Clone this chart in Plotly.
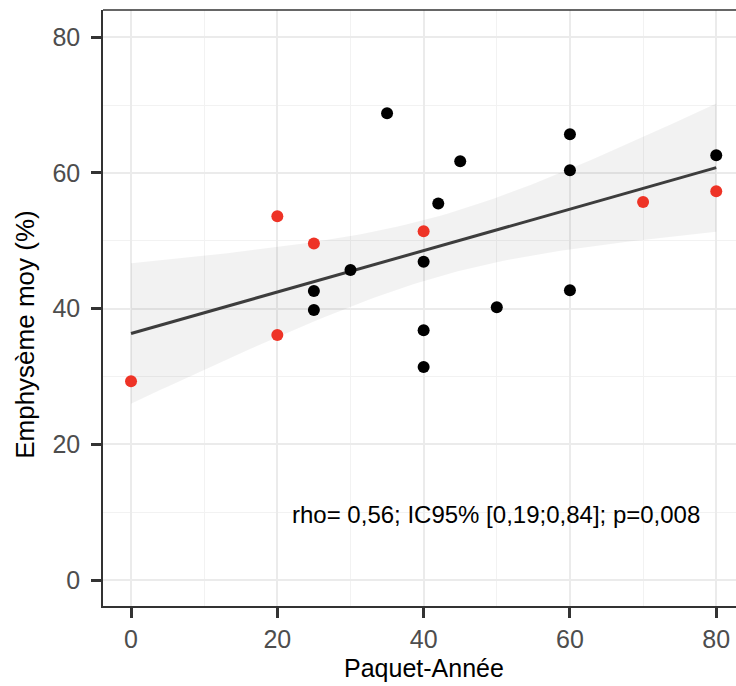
import numpy as np
import plotly.graph_objects as go

# Paquet-Année and mean emphysema (%) per patient, by group
red_x = [0, 20, 20, 25, 40, 70, 80]
red_y = [29.3, 53.6, 36.1, 49.6, 51.4, 55.7, 57.3]
black_x = [35, 25, 25, 30, 40, 40, 40, 42, 45, 50, 60, 60, 60, 80]
black_y = [68.8, 42.6, 39.8, 45.7, 46.9, 36.8, 31.4, 55.5, 61.7, 40.2, 65.7, 60.4, 42.7, 62.6]
x_ticks = [0, 20, 40, 60, 80]
y_ticks = [0, 20, 40, 60, 80]
x_title = "Paquet-Année"
y_title = "Emphysème moy (%)"
stat_label = "rho= 0,56; IC95% [0,19;0,84]; p=0,008"

FONT = "Liberation Sans, Arial"

# Linear fit with 95% confidence band over all patients
x_all = np.array(red_x + black_x, dtype=float)
y_all = np.array(red_y + black_y, dtype=float)
n = len(x_all)
slope, intercept = np.polyfit(x_all, y_all, 1)
resid = y_all - (intercept + slope * x_all)
s = np.sqrt(np.sum(resid ** 2) / (n - 2))
xm = x_all.mean()
sxx = np.sum((x_all - xm) ** 2)
t975 = 2.093  # Student t quantile, df = 19
xs = np.linspace(x_all.min(), x_all.max(), 80)
fit = intercept + slope * xs
se = s * np.sqrt(1.0 / n + (xs - xm) ** 2 / sxx)
upper = fit + t975 * se
lower = fit - t975 * se

fig = go.Figure()
fig.add_trace(go.Scatter(
    x=np.concatenate([xs, xs[::-1]]), y=np.concatenate([upper, lower[::-1]]),
    fill="toself", fillcolor="rgba(0,0,0,0.05)", line=dict(width=0),
    mode="lines", hoverinfo="skip", showlegend=False))
fig.add_trace(go.Scatter(x=xs, y=fit, mode="lines",
                         line=dict(color="#3d3d3d", width=3), showlegend=False))
fig.add_trace(go.Scatter(x=black_x, y=black_y, mode="markers",
                         marker=dict(color="black", size=12), showlegend=False))
fig.add_trace(go.Scatter(x=red_x, y=red_y, mode="markers",
                         marker=dict(color="#ee3326", size=12), showlegend=False))

fig.add_annotation(x=49.9, y=9.6, text=stat_label, showarrow=False,
                   font=dict(size=24, color="black", family=FONT))

# axis titles, centred on the panel
fig.add_annotation(xref="paper", yref="paper", x=0.507, y=0, yshift=-62,
                   text=x_title, showarrow=False, yanchor="middle",
                   font=dict(size=25, color="black", family=FONT))
fig.add_annotation(xref="paper", yref="paper", x=0, xshift=-78, y=0.455,
                   text=y_title, showarrow=False, textangle=-90,
                   xanchor="center", yanchor="middle",
                   font=dict(size=26, color="black", family=FONT))

axis_common = dict(
    showgrid=True, gridcolor="#ebebeb", gridwidth=2, zeroline=False,
    ticks="outside", ticklen=10, tickwidth=2.5, tickcolor="#333333",
    tickfont=dict(size=25, color="#4d4d4d", family=FONT),
    showline=True, linecolor="#333333", linewidth=1.5,
    minor=dict(dtick=10, showgrid=True, gridcolor="#f2f2f2", gridwidth=1, ticks=""),
)

fig.update_xaxes(range=[-3.83, 82.7], tickvals=x_ticks, ticklabelstandoff=0,
                 **axis_common)
fig.update_yaxes(range=[-3.83, 84], tickvals=y_ticks, ticklabelstandoff=6,
                 **axis_common)

# top border of the panel
fig.add_shape(type="line", xref="paper", yref="paper", x0=0, x1=1, y0=1, y1=1,
              line=dict(color="#333333", width=1.5))

fig.update_layout(
    width=736, height=686,
    margin=dict(l=103, r=0, t=10, b=80),
    plot_bgcolor="white", paper_bgcolor="white",
    font=dict(family=FONT),
)

fig.write_html("out.html", config={"displayModeBar": False})
